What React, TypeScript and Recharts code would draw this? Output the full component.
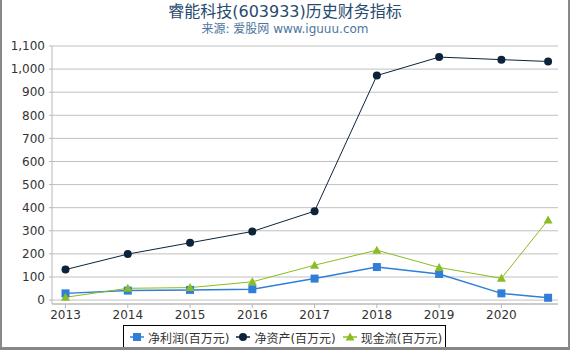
import React from 'react'
import { LineChart, Line, XAxis, YAxis, CartesianGrid } from 'recharts'

const years = [2013, 2014, 2015, 2016, 2017, 2018, 2019, 2020, 2020.75]
const yearTicks = [2013, 2014, 2015, 2016, 2017, 2018, 2019, 2020]
const valueTicks = [0, 100, 200, 300, 400, 500, 600, 700, 800, 900, 1000, 1100]
const netProfit = [29, 41, 44, 47, 93, 143, 113, 29, 10]
const netAssets = [132, 199, 248, 297, 385, 972, 1052, 1041, 1033]
const cashFlow = [12, 51, 54, 79, 151, 216, 141, 94, 347]

const seriesNames = ['净利润(百万元)', '净资产(百万元)', '现金流(百万元)']
const colors = ['#2f7ed8', '#0d233a', '#8bbc21']

const data = years.map((year, i) => ({
  year,
  profit: netProfit[i],
  assets: netAssets[i],
  cash: cashFlow[i],
}))

const font = '"DejaVu Sans", "Noto Sans CJK SC", sans-serif'
const tickStyle = { fontSize: 12, fill: '#333', fontFamily: font }

const Square = (props: any) => {
  const { cx, cy, key } = props
  return <rect key={key} x={cx - 4} y={cy - 4} width={8} height={8} fill={colors[0]} />
}
const Circle = (props: any) => {
  const { cx, cy, key } = props
  return <circle key={key} cx={cx} cy={cy} r={4} fill={colors[1]} />
}
const Triangle = (props: any) => {
  const { cx, cy, key } = props
  return <path key={key} d={`M${cx},${cy - 4.5}L${cx + 4.5},${cy + 3.5}L${cx - 4.5},${cy + 3.5}Z`} fill={colors[2]} />
}

function LegendIcon({ idx }: { idx: number }) {
  const c = colors[idx]
  return (
    <svg width={14} height={12} style={{ marginRight: 4 }}>
      <line x1={0} y1={6} x2={14} y2={6} stroke={c} strokeWidth={1.5} />
      {idx === 0 && <rect x={3} y={2} width={8} height={8} fill={c} />}
      {idx === 1 && <circle cx={7} cy={6} r={4} fill={c} />}
      {idx === 2 && <path d="M7,1.5L11.5,9.5L2.5,9.5Z" fill={c} />}
    </svg>
  )
}

export default function App() {
  return (
    <div style={{ position: 'absolute', left: 0, top: 0, width: 570, height: 350, background: '#fff', fontFamily: font }}>
      <div style={{ position: 'absolute', top: 3, left: 0, width: 570, textAlign: 'center', fontSize: 16, lineHeight: '18px', color: '#274b6d' }}>
        睿能科技(603933)历史财务指标
      </div>
      <div style={{ position: 'absolute', top: 22, left: 0, width: 570, textAlign: 'center', fontSize: 12, lineHeight: '14px', color: '#4d759e' }}>
        来源: 爱股网 www.iguuu.com
      </div>
      <LineChart width={570} height={350} data={data} margin={{ top: 46, right: 12, bottom: 0, left: 0 }}>
        <CartesianGrid horizontal vertical={false} stroke="#c0c0c0" />
        <XAxis
          dataKey="year"
          type="number"
          domain={[2012.783, 2020.909]}
          ticks={yearTicks}
          allowDataOverflow
          height={46}
          tick={tickStyle}
          tickSize={4}
          tickMargin={2}
          stroke="#b8b8b8"
        />
        <YAxis
          type="number"
          domain={[-17, 1100]}
          ticks={valueTicks}
          allowDataOverflow
          width={52}
          tick={tickStyle}
          tickSize={3}
          tickMargin={4}
          stroke="#b8b8b8"
          tickFormatter={(v: number) => v.toLocaleString('en-US')}
        />
        <Line dataKey="profit" stroke={colors[0]} strokeWidth={1.5} dot={Square} activeDot={false} isAnimationActive={false} />
        <Line dataKey="assets" stroke={colors[1]} strokeWidth={1} dot={Circle} activeDot={false} isAnimationActive={false} />
        <Line dataKey="cash" stroke={colors[2]} strokeWidth={1} dot={Triangle} activeDot={false} isAnimationActive={false} />
      </LineChart>
      <div
        style={{
          position: 'absolute', left: 123, top: 325, width: 323, height: 24, boxSizing: 'border-box',
          border: '1px solid #000', display: 'flex', alignItems: 'center', paddingLeft: 6,
          fontSize: 12, color: '#333', whiteSpace: 'nowrap',
        }}
      >
        {seriesNames.map((name, i) => (
          <div key={name} style={{ display: 'flex', alignItems: 'center', marginRight: 7 }}>
            <LegendIcon idx={i} />
            <span>{name}</span>
          </div>
        ))}
      </div>
      <div style={{ position: 'absolute', left: 0, top: 0, width: 570, height: 350, boxSizing: 'border-box', borderLeft: '2px solid #888', borderRight: '2px solid #888', borderBottom: '3px solid #888', pointerEvents: 'none' }} />
    </div>
  )
}
